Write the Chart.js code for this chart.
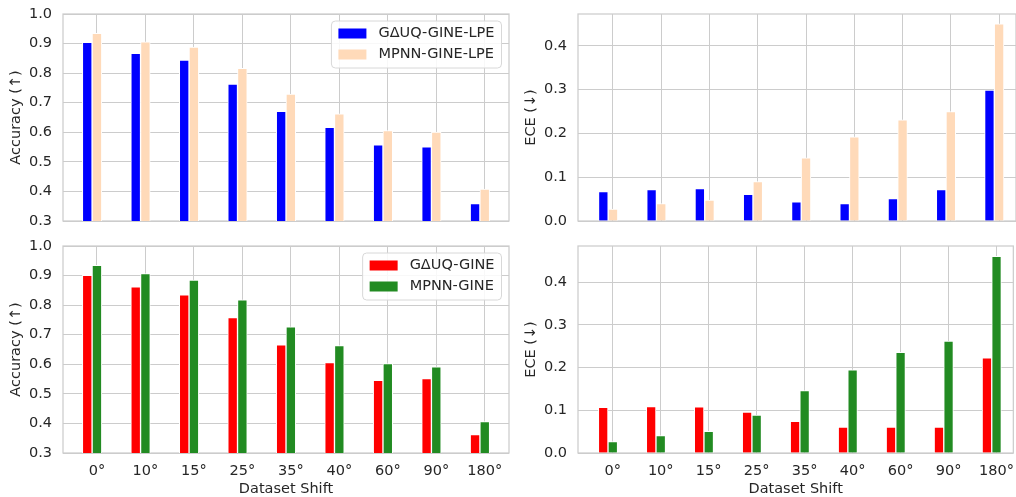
<!DOCTYPE html>
<html>
<head>
<meta charset="utf-8">
<script src="https://cdn.jsdelivr.net/npm/chart.js@4.4.1/dist/chart.umd.min.js"></script>
<style>
  body { margin: 0; background: #fff; width: 1016px; height: 497px; overflow: hidden; position: relative; }
  canvas { position: absolute; }
</style>
</head>
<body>
<canvas id="accLpe" width="512" height="232" style="left:0;top:0"></canvas>
<canvas id="eceLpe" width="500" height="232" style="left:516px;top:0"></canvas>
<canvas id="accGine" width="512" height="265" style="left:0;top:232px"></canvas>
<canvas id="eceGine" width="500" height="265" style="left:516px;top:232px"></canvas>
<script>
const shifts = ['0°', '10°', '15°', '25°', '35°', '40°', '60°', '90°', '180°'];

// top row: LPE variants
const accGdUQLpe = [0.904, 0.867, 0.844, 0.763, 0.671, 0.617, 0.558, 0.551, 0.359];
const accMpnnLpe = [0.935, 0.906, 0.888, 0.816, 0.729, 0.662, 0.606, 0.601, 0.408];
const eceGdUQLpe = [0.067, 0.072, 0.074, 0.061, 0.044, 0.040, 0.051, 0.072, 0.299];
const eceMpnnLpe = [0.027, 0.040, 0.048, 0.090, 0.144, 0.192, 0.231, 0.250, 0.450];

// bottom row: plain GINE
const accGdUQ = [0.901, 0.862, 0.835, 0.758, 0.666, 0.606, 0.546, 0.552, 0.362];
const accMpnn = [0.935, 0.907, 0.885, 0.818, 0.727, 0.663, 0.602, 0.591, 0.406];
const eceGdUQ = [0.107, 0.109, 0.108, 0.096, 0.074, 0.061, 0.061, 0.061, 0.223];
const eceMpnn = [0.027, 0.041, 0.051, 0.089, 0.146, 0.195, 0.236, 0.262, 0.461];

const accTicks = [0.3, 0.4, 0.5, 0.6, 0.7, 0.8, 0.9, 1.0];
const eceTicks = [0.0, 0.1, 0.2, 0.3, 0.4];

Chart.defaults.font.family = '"DejaVu Sans", sans-serif';
Chart.defaults.font.size = 14.5;
Chart.defaults.color = '#262626';

const GRID = '#cccccc';

// light grey frame round the plot area, like the seaborn whitegrid spines
const frame = {
  id: 'frame',
  beforeDatasetsDraw(chart) {
    const { ctx, chartArea: a } = chart;
    ctx.save();
    ctx.strokeStyle = GRID;
    ctx.lineWidth = 1.25;
    ctx.strokeRect(a.left, a.top, a.right - a.left, a.bottom - a.top);
    ctx.restore();
  },
};

// legend box drawn inside the upper right of the plot
const boxLegend = {
  id: 'boxLegend',
  afterDatasetsDraw(chart, args, opts) {
    if (!opts.show) return;
    const { ctx, chartArea: a } = chart;
    const items = chart.data.datasets;
    ctx.save();
    ctx.font = '14.5px "DejaVu Sans", sans-serif';
    const tw = Math.max(...items.map(d => ctx.measureText(d.label).width));
    const w = 7 + 28 + 12 + tw + 7;
    const h = 47;
    const x = a.right - 7.5 - w;
    const y = a.top + 7;
    ctx.beginPath();
    ctx.roundRect(x, y, w, h, 4);
    ctx.fillStyle = 'rgba(255,255,255,0.85)';
    ctx.fill();
    ctx.strokeStyle = '#d8d8d8';
    ctx.lineWidth = 1;
    ctx.stroke();
    items.forEach((d, i) => {
      const cy = y + 12.5 + i * 21;
      ctx.fillStyle = d.backgroundColor;
      ctx.fillRect(x + 7, cy - 5, 28, 10);
      ctx.fillStyle = '#262626';
      ctx.textBaseline = 'middle';
      ctx.fillText(d.label, x + 47, cy);
    });
    ctx.restore();
  },
};

function makeChart(id, cfg) {
  const pos = shifts.map((s, i) => i);
  const datasets = cfg.series.map((vals, k) => ({
    label: cfg.labels[k],
    data: vals.map((v, i) => ({ x: pos[i] + cfg.offsets[k], y: v })),
    backgroundColor: cfg.colors[k],
    borderColor: '#ffffff',
    borderWidth: 1,
    grouped: false,
    barPercentage: 1,
    categoryPercentage: 1,
  }));

  return new Chart(document.getElementById(id), {
    type: 'bar',
    data: { datasets },
    plugins: [frame, boxLegend],
    options: {
      responsive: false,
      animation: false,
      layout: { padding: { top: 14, right: cfg.padRight, left: 0, bottom: 0 } },
      plugins: {
        legend: { display: false },
        tooltip: { enabled: false },
        boxLegend: { show: cfg.legend },
      },
      scales: {
        x: {
          type: 'linear',
          offset: false,
          min: cfg.xMin,
          max: cfg.xMax,
          afterBuildTicks: (scale) => { scale.ticks = pos.map(v => ({ value: v })); },
          afterFit: (scale) => { scale.height = cfg.xHeight; },
          grid: { color: GRID, lineWidth: 1, drawTicks: true, tickLength: 8, tickColor: 'rgba(0,0,0,0)', offset: false },
          border: { display: false },
          ticks: {
            display: cfg.xLabels,
            padding: 2,
            maxRotation: 0,
            autoSkip: false,
            callback: (value, index) => shifts[index],
          },
          title: {
            display: cfg.xLabels,
            text: 'Dataset Shift',
            padding: { top: 0, bottom: -1 },
          },
        },
        y: {
          min: cfg.yMin,
          max: cfg.yMax,
          afterBuildTicks: (scale) => { scale.ticks = cfg.yTicks.map(v => ({ value: v })); },
          afterFit: (scale) => { scale.width = cfg.yWidth; },
          grid: { color: GRID, lineWidth: 1, drawTicks: true, tickLength: 11, tickColor: 'rgba(0,0,0,0)' },
          border: { display: false },
          ticks: {
            padding: 0,
            callback: (value) => value.toFixed(1),
          },
          title: {
            display: true,
            text: cfg.yTitle,
            padding: { top: cfg.titlePad, bottom: 0 },
          },
        },
      },
    },
  });
}

const leftX = { xMin: -0.7, xMax: 8.5, yWidth: 63, padRight: 3, titlePad: 8, offsets: [-0.2, 0] };
const rightX = { xMin: -0.725, xMax: 8.35, yWidth: 62, padRight: 0, titlePad: 7, offsets: [-0.2, 0] };

const lpeLabels = ['G\u0394UQ-GINE-LPE', 'MPNN-GINE-LPE'];
const lpeColors = ['#0000ff', '#ffdab9'];
const gineLabels = ['G\u0394UQ-GINE', 'MPNN-GINE'];
const gineColors = ['#ff0000', '#228b22'];

makeChart('accLpe', Object.assign({}, leftX, {
  series: [accGdUQLpe, accMpnnLpe], labels: lpeLabels, colors: lpeColors,
  yMin: 0.3, yMax: 1.0, yTicks: accTicks, yTitle: 'Accuracy (\u2191)',
  xLabels: false, xHeight: 11, legend: true,
}));
makeChart('eceLpe', Object.assign({}, rightX, {
  series: [eceGdUQLpe, eceMpnnLpe], labels: lpeLabels, colors: lpeColors,
  yMin: 0, yMax: 0.4725, yTicks: eceTicks, yTitle: 'ECE (\u2193)',
  xLabels: false, xHeight: 11, legend: false,
}));
makeChart('accGine', Object.assign({}, leftX, {
  series: [accGdUQ, accMpnn], labels: gineLabels, colors: gineColors,
  yMin: 0.3, yMax: 1.0, yTicks: accTicks, yTitle: 'Accuracy (\u2191)',
  xLabels: true, xHeight: 44, legend: true,
}));
makeChart('eceGine', Object.assign({}, rightX, {
  series: [eceGdUQ, eceMpnn], labels: gineLabels, colors: gineColors,
  yMin: 0, yMax: 0.485, yTicks: eceTicks, yTitle: 'ECE (\u2193)',
  xLabels: true, xHeight: 44, legend: false,
}));
</script>
</body>
</html>
